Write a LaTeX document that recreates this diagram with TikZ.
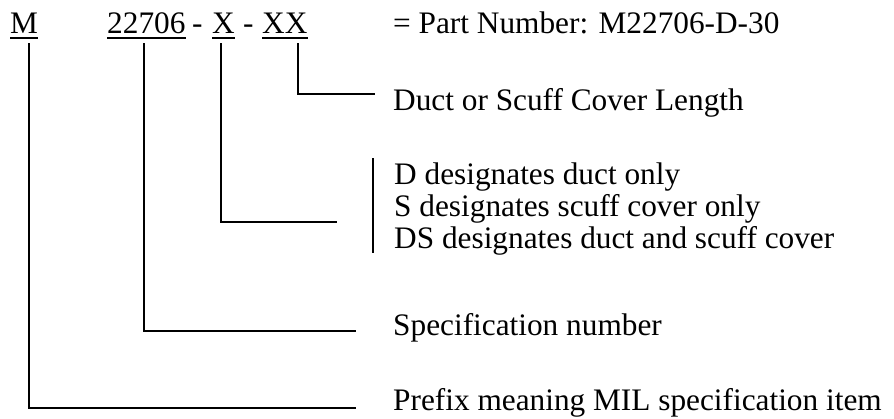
\documentclass[tikz,border=0pt]{standalone}
\usepackage{fontspec}
\setmainfont{Liberation Serif}
\begin{document}
\begin{tikzpicture}[x=1pt,y=-1pt,
  txt/.style={anchor=base west,inner sep=0pt,font=\fontsize{31.3}{36}\selectfont},
  uline/.style={line width=1.3pt},
  lead/.style={line width=1.8pt}]
\useasboundingbox (0,0) rectangle (894,418);

% part number fields
\node[txt] (m)   at (10,33)  {M};
\node[txt] (spec) at (107,33) {22706};
\node[txt] (d1)  at (192,33) {-};
\node[txt] (x)   at (212,33) {X};
\node[txt] (d2)  at (243,33) {-};
\node[txt] (xx)  at (262,33) {XX};
\node[txt] (pn)  at (393,33) {= Part Number: M22706-D-30};

% underlines
\foreach \n in {m,spec,x,xx}
  \draw[uline] ([yshift=-5pt]\n.base west) -- ([yshift=-5pt]\n.base east);

% explanations
\node[txt] (len)   at (393,110) {Duct or Scuff Cover Length};
\node[txt] (dd)    at (394,184.5) {D designates duct only};
\node[txt] (ss)    at (394,216) {S designates scuff cover only};
\node[txt] (dsds)  at (394,248) {DS designates duct and scuff cover};
\node[txt] (specn) at (393,335) {Specification number};
\node[txt] (pre)   at (393,410) {Prefix meaning MIL specification item};

% leader end points
\coordinate (mt)  at (29,43);   \coordinate (me)  at (356,408);
\coordinate (st)  at (144,43);  \coordinate (se)  at (356,331);
\coordinate (xt)  at (221,43);  \coordinate (xe)  at (337,222);
\coordinate (xxt) at (298,43);  \coordinate (xxe) at (375,94);
\coordinate (bt)  at (373,158); \coordinate (bb)  at (373,253);

% leaders
\draw[lead] (mt)  |- (me);
\draw[lead] (st)  |- (se);
\draw[lead] (xt)  |- (xe);
\draw[lead] (xxt) |- (xxe);
\draw[lead] (bt) -- (bb);
\end{tikzpicture}
\end{document}
